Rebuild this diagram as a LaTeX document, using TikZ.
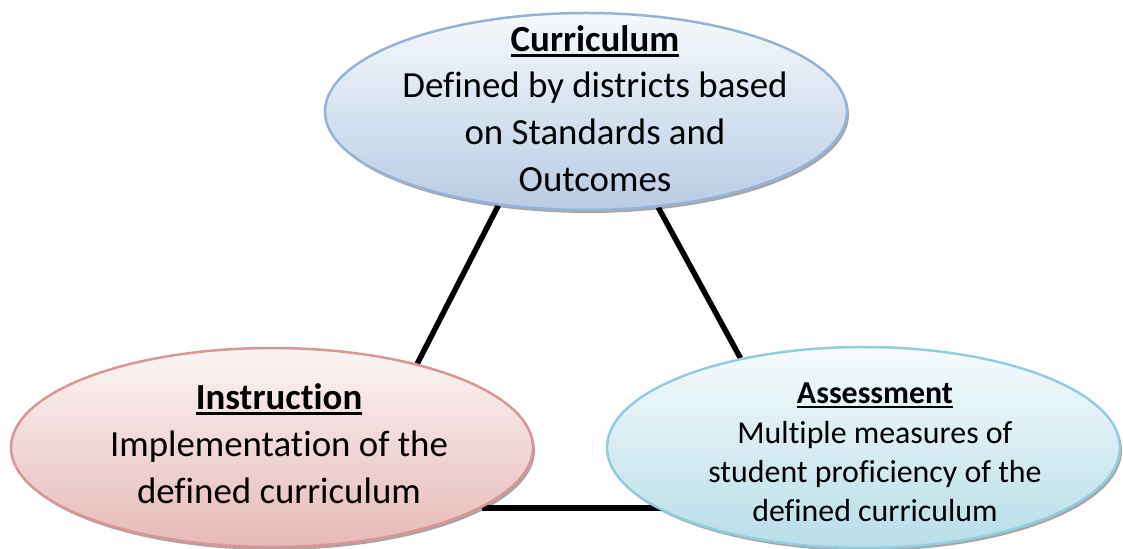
\documentclass[tikz,border=0pt]{standalone}
\usepackage{fontspec}
\setmainfont{Carlito}[Ligatures=NoCommon]
\usetikzlibrary{shapes.geometric,shadows,backgrounds}

\definecolor{curtop}{RGB}{246,249,252}
\definecolor{curbottom}{RGB}{184,204,228}
\definecolor{curline}{RGB}{149,179,215}
\definecolor{instop}{RGB}{252,245,245}
\definecolor{insbottom}{RGB}{230,185,184}
\definecolor{insline}{RGB}{217,150,148}
\definecolor{asstop}{RGB}{246,251,252}
\definecolor{assbottom}{RGB}{183,222,232}
\definecolor{assline}{RGB}{147,205,221}

\newsavebox\titlebox
\newcommand\ellipsetitle[1]{\sbox\titlebox{\bfseries #1}\rlap{\usebox\titlebox}\rule[-0.15em]{\wd\titlebox}{0.07em}}

\begin{document}
\begin{tikzpicture}[x=1bp, y=-1bp,
        bubble/.style={ellipse, draw, line width=2.5bp, inner sep=0pt,
            drop shadow={shadow xshift=2bp, shadow yshift=-3bp, fill=black, opacity=0.35}},
        bubbletext/.style={align=center, inner sep=0pt},
        link/.style={line width=5.5bp, black}]
        \useasboundingbox (0,0) rectangle (1123,549);

        % Curriculum oben
        \node[bubble, draw=curline, top color=curtop, bottom color=curbottom,
            minimum width=522bp, minimum height=197bp] (cur) at (586,111.5) {};
        \node[bubbletext, font=\fontsize{37}{47}\selectfont] (curtext) at (595,108.5)
            {\ellipsetitle{Curriculum}\\Defined by districts based\\on Standards and\\Outcomes};

        % Instruction links unten
        \node[bubble, draw=insline, top color=instop, bottom color=insbottom,
            minimum width=522bp, minimum height=199bp] (ins) at (272,447.5) {};
        \node[bubbletext, font=\fontsize{37}{47}\selectfont] (instext) at (279,443.5)
            {\ellipsetitle{Instruction}\\Implementation of the\\defined curriculum};

        % Assessment rechts unten
        \node[bubble, draw=assline, top color=asstop, bottom color=assbottom,
            minimum width=513bp, minimum height=201bp] (ass) at (863.5,447.5) {};
        \node[bubbletext, font=\fontsize{32}{39.5}\selectfont] (asstext) at (875,452.5)
            {\ellipsetitle{Assessment}\\Multiple measures of\\student proficiency of the\\defined curriculum};

        % Verbindungen hinter den Ellipsen
        \begin{scope}[on background layer]
            \draw[link] (cur.227.6) -- (ins.30.4);
            \draw[link] (cur.307.9) -- (ass.144.7);
            \draw[link] (ins.344.9) -- (ins.344.9 -| ass.center);
        \end{scope}

    \end{tikzpicture}
\end{document}
